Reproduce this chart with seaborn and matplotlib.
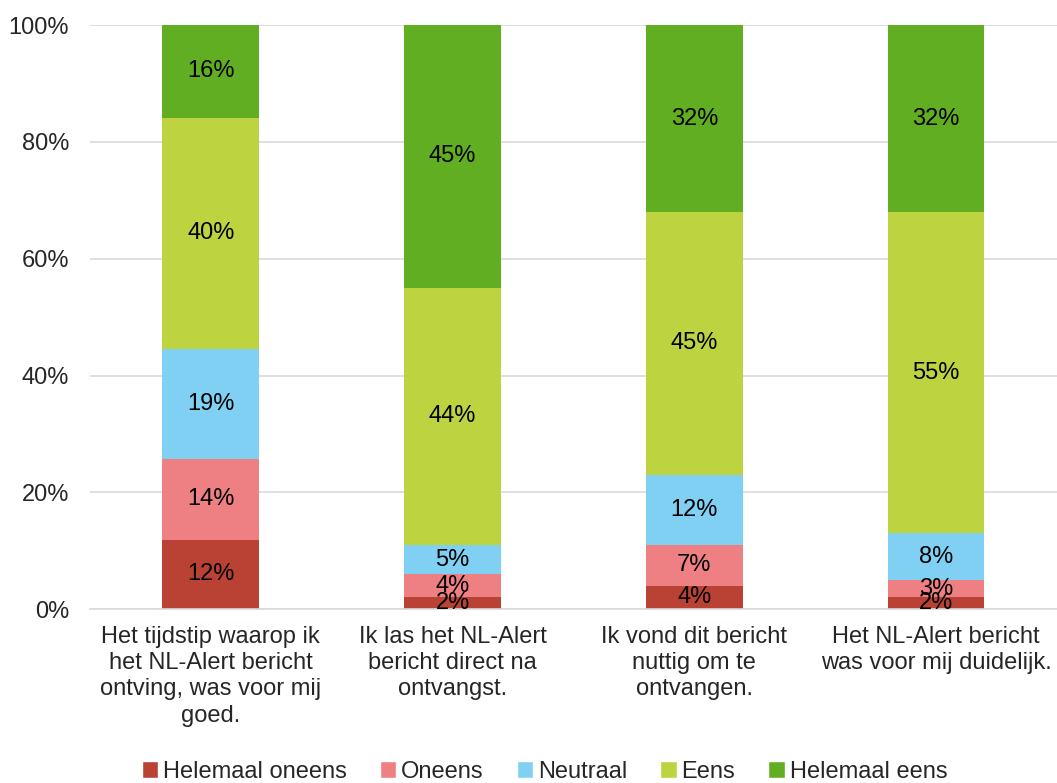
import numpy as np
import pandas as pd
import matplotlib
matplotlib.use("Agg")
import matplotlib.pyplot as plt
import seaborn as sns
from matplotlib.patches import Patch

categories = [
    "Het tijdstip waarop ik\nhet NL-Alert bericht\nontving, was voor mij\ngoed.",
    "Ik las het NL-Alert\nbericht direct na\nontvangst.",
    "Ik vond dit bericht\nnuttig om te\nontvangen.",
    "Het NL-Alert bericht\nwas voor mij duidelijk.",
]
series = ["Helemaal oneens", "Oneens", "Neutraal", "Eens", "Helemaal eens"]
helemaal_oneens = [12, 2, 4, 2]
oneens = [14, 4, 7, 3]
neutraal = [19, 5, 12, 8]
eens = [40, 44, 45, 55]
helemaal_eens = [16, 45, 32, 32]
colors = ["#B94234", "#EE8083", "#7FD0F3", "#BDD33F", "#62AE23"]

values = np.array([helemaal_oneens, oneens, neutraal, eens, helemaal_eens], dtype=float)
# 100% stacked: normalise each column
shares = values / values.sum(axis=0) * 100
cum = np.cumsum(shares, axis=0)

sns.set_style("white")
plt.rcParams["font.family"] = ["Liberation Sans", "DejaVu Sans"]

fig = plt.figure(figsize=(10.57, 7.83), dpi=100)
ax = fig.add_axes([0.085, 0.222, 0.915, 0.746])

# draw from the top of the stack down so lower segments overlay
for i in range(len(series) - 1, -1, -1):
    df = pd.DataFrame({"cat": categories, "val": cum[i]})
    sns.barplot(data=df, x="cat", y="val", color=colors[i], width=0.4,
                saturation=1, linewidth=0, ax=ax, zorder=2)

for j in range(len(categories)):
    for i in range(len(series)):
        bottom = cum[i - 1, j] if i > 0 else 0
        mid = bottom + shares[i, j] / 2
        ax.text(j, mid, f"{int(values[i, j])}%", ha="center", va="center",
                fontsize=17, color="black", zorder=5)

ax.set_ylim(0, 100)
ax.set_xlim(-0.5, 3.5)
ax.set_yticks(range(0, 101, 20))
ax.set_yticklabels([f"{v}%" for v in range(0, 101, 20)], fontsize=17)
ax.set_xticks(range(len(categories)))
ax.set_xticklabels(categories, fontsize=17, linespacing=1.25)
ax.tick_params(axis="x", length=0, pad=12)
ax.tick_params(axis="y", length=0, pad=15)
ax.set_xlabel("")
ax.set_ylabel("")
ax.yaxis.grid(True, color="#D9D9D9", linewidth=1.2, zorder=0)
ax.set_axisbelow(True)
for s in ["top", "right", "left"]:
    ax.spines[s].set_visible(False)
ax.spines["bottom"].set_color("#D9D9D9")
ax.spines["bottom"].set_linewidth(1.2)

handles = [Patch(facecolor=c, label=s) for s, c in zip(series, colors)]
fig.legend(handles=handles, loc="lower center", ncol=5, frameon=False,
           fontsize=17, bbox_to_anchor=(0.515, -0.027), handlelength=0.7,
           handleheight=0.7, handletextpad=0.2, columnspacing=1.4)

fig.savefig("out.png", dpi=100)
